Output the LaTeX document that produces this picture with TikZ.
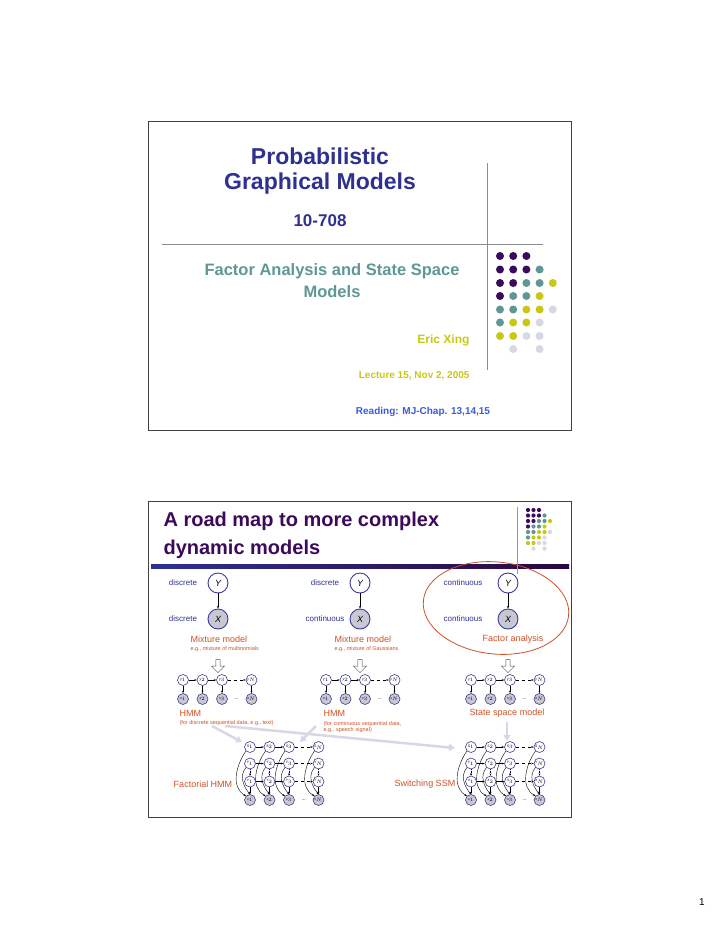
\documentclass[tikz,border=0pt]{standalone}
\usepackage{fontspec}
\setmainfont{Liberation Sans}
\usetikzlibrary{arrows.meta,shapes.arrows}
\definecolor{tblue}{RGB}{46,49,146}
\definecolor{tteal}{RGB}{95,150,150}
\definecolor{tolive}{RGB}{200,200,20}
\definecolor{tlav}{RGB}{215,215,230}
\definecolor{tpurp}{RGB}{60,10,90}
\definecolor{torange}{RGB}{205,80,40}
\definecolor{tread}{RGB}{60,90,220}
\definecolor{ngray}{RGB}{200,200,212}
\definecolor{nblue}{RGB}{60,60,150}
\begin{document}
\begin{tikzpicture}[x=1pt,y=-1pt,
  big/.style={circle,draw=nblue,line width=0.9pt,minimum size=20pt,inner sep=0pt,font=\itshape\fontsize{9}{9}\selectfont},
  bigo/.style={big,fill=ngray},
  sm/.style={circle,draw=nblue,line width=0.6pt,minimum size=11pt,inner sep=0pt,font=\itshape\fontsize{3.5}{3.5}\selectfont},
  smo/.style={sm,fill=ngray},
  lab/.style={text=tblue,font=\fontsize{8}{8}\selectfont},
  ora/.style={text=torange,font=\fontsize{9}{9}\selectfont,anchor=west},
  orasm/.style={text=torange,font=\fontsize{5.5}{6.5}\selectfont,anchor=west,align=left},
  ar/.style={-{Stealth[length=2.5pt]},line width=0.4pt},
  lavar/.style={-{Triangle[length=6pt,width=7pt]},tlav,line width=2.5pt},
  hol/.style={single arrow,draw=black!70,line width=0.4pt,minimum height=13pt,minimum width=13pt,single arrow head extend=2.5pt,shape border rotate=270,inner sep=1pt}]
\useasboundingbox (0,0) rectangle (720,932);
% ---------- slide 1
\draw[black!75,line width=1pt] (148,121) rectangle (571,430);
\node[text=tblue,font=\bfseries\fontsize{23}{23}\selectfont] (t1) at (320,156) {Probabilistic};
\node[text=tblue,font=\bfseries\fontsize{23}{23}\selectfont] (t2) at (320,184) {Graphical Models};
\node[text=tblue,font=\bfseries\fontsize{17}{17}\selectfont] (t3) at (320,221) {10-708};
\draw[black!45,line width=0.6pt] (162,244) -- (543,244);
\draw[black!45,line width=0.8pt] (487,163) -- (487,370);
\node[text=tteal,font=\bfseries\fontsize{16.5}{16.5}\selectfont] (fa) at (332,271) {Factor Analysis and State Space};
\node[text=tteal,font=\bfseries\fontsize{16.5}{16.5}\selectfont] (fb) at (332,292) {Models};
\node[text=tolive,font=\bfseries\fontsize{12}{12}\selectfont,anchor=east] (ex) at (473,340) {Eric Xing};
\node[text=tolive,font=\bfseries\fontsize{10}{10}\selectfont,anchor=east] (lec) at (473,376) {Lecture 15, Nov 2, 2005};
\node[text=tread,font=\bfseries\fontsize{10}{10}\selectfont] (rd) at (423,412) {Reading: MJ-Chap. 13,14,15};
\foreach \y/\L in {256/{tpurp,tpurp,tpurp},269.5/{tpurp,tpurp,tpurp,tteal},283/{tpurp,tpurp,tteal,tteal,tolive},296/{tpurp,tteal,tteal,tolive},309.5/{tteal,tteal,tolive,tolive,tlav},322.5/{tteal,tolive,tolive,tlav},336/{tolive,tolive,tlav,tlav},349/{white,tlav,white,tlav}}{
  \foreach \cl [count=\i from 0] in \L {\fill[\cl] (500+\i*13.2,\y) circle (4);}}
% ---------- slide 2
\draw[black!75,line width=1pt] (148,501) rectangle (571,817);
\node[text=tpurp,font=\bfseries\fontsize{20}{20}\selectfont,anchor=west] (r1) at (160,521) {A road map to more complex};
\node[text=tpurp,font=\bfseries\fontsize{20}{20}\selectfont,anchor=west] (r2) at (160,549) {dynamic models};
\shade[left color=tblue,right color=tpurp!70!black] (151,564) rectangle (569,568);
\draw[black!40,line width=0.8pt] (517,507) -- (517,574);
\foreach \y/\L in {510/{tpurp,tpurp,tpurp},515.5/{tpurp,tpurp,tpurp,tteal},521/{tpurp,tpurp,tteal,tteal,tolive},526.5/{tpurp,tteal,tteal,tolive},532/{tteal,tteal,tolive,tolive,tlav},537.5/{tteal,tolive,tolive,tlav},543/{tolive,tolive,tlav,tlav},548.5/{white,tlav,white,tlav}}{
  \foreach \cl [count=\i from 0] in \L {\fill[\cl] (528+\i*5.5,\y) circle (2.1);}}
% top level models
\foreach \n/\x/\a/\b/\lx in {1/218/discrete/discrete/183,2/360/discrete/continuous/325,3/508/continuous/continuous/463}{
  \node[big] (Y\n) at (\x,583) {Y};
  \node[bigo] (X\n) at (\x,619) {X};
  \draw[ar] (Y\n) -- (X\n);
  \node[lab] (la\n) at (\lx,583) {\a};
  \node[lab] (lb\n) at (\lx,619) {\b};
  \node[hol] (h\n) at (\x,665) {};
}
\node[ora] (m1) at (187,639) {Mixture model};
\node[orasm] (m1s) at (187,649) {e.g., mixture of multinomials};
\node[ora] (m2) at (331,639) {Mixture model};
\node[orasm] (m2s) at (331,649) {e.g., mixture of Gaussians};
\node[ora,anchor=center] (m3) at (513,639) {Factor analysis};
\draw[torange,line width=0.8pt,rotate around={-6:(496,608)}] (496,608) ellipse (73 and 46);
% HMM chains
\foreach \n/\x in {1/183,2/326,3/471}{
  \foreach \i/\dx/\s in {1/0/1,2/19.5/2,3/39/3,4/68.5/N}{
    \node[sm] (c\n y\i) at (\x+\dx,680) {y$_\s$};
    \node[smo] (c\n x\i) at (\x+\dx,699) {x$_\s$};
    \draw[ar] (c\n y\i) -- (c\n x\i);
  }
  \draw[ar] (c\n y1) -- (c\n y2);
  \draw[ar] (c\n y2) -- (c\n y3);
  \draw[ar,dashed] (c\n y3) -- (c\n y4);
  \path (c\n x3) -- node[font=\tiny]{...} (c\n x4);
}
\node[ora] (hm1) at (176,713) {HMM};
\node[orasm] (hm1s) at (176,723) {(for discrete sequential data, e.g., text)};
\node[ora] (hm2) at (320,713) {HMM};
\node[orasm,text width=110pt] (hm2s) at (320,727) {(for continuous sequential data,\\ e.g., speech signal)};
\node[ora,anchor=center] (hm3) at (507,713) {State space model};
% lavender arrows
\coordinate (a1s) at (212,726); \coordinate (a1e) at (242,742);
\coordinate (a2s) at (316,726); \coordinate (a2e) at (300,742);
\coordinate (a3s) at (225,726); \coordinate (a3e) at (455,748);
\coordinate (a4s) at (507,722); \coordinate (a4e) at (507,741);
\draw[lavar] (a1s) -- (a1e);
\draw[lavar] (a2s) -- (a2e);
\draw[lavar] (a3s) -- (a3e);
\draw[lavar] (a4s) -- (a4e);
% factorial / switching
\foreach \n/\x/\rb/\rc in {f/250/Y/Y,s/471/Y/X}{
  \foreach \i/\dx/\s in {1/0/1,2/19.5/2,3/39/3,4/68.5/N}{
    \node[sm] (\n s\i) at (\x+\dx,747) {S$_\s$};
    \node[sm] (\n a\i) at (\x+\dx,763.5) {\rb$_{\s}$};
    \node[sm] (\n b\i) at (\x+\dx,781.5) {\rc$_{\s}$};
    \node[smo] (\n x\i) at (\x+\dx,800) {x$_\s$};
    \draw[ar,densely dotted] (\n a\i) -- (\n b\i);
    \draw[ar] (\n b\i) -- (\n x\i);
    \draw[ar] (\n s\i.south west) to[out=235,in=150] (\n x\i.north west);
    \draw[ar] (\n a\i.south west) to[out=230,in=130] (\n x\i.north);
  }
  \foreach \r in {s,a,b}{
    \draw[ar] (\n\r1) -- (\n\r2);
    \draw[ar] (\n\r2) -- (\n\r3);
    \draw[ar,dashed] (\n\r3) -- (\n\r4);
  }
  \path (\n x3) -- node[font=\tiny]{...} (\n x4);
}
\node[ora,anchor=center] (fh) at (203,784) {Factorial HMM};
\node[ora,anchor=center] (ss) at (425,784) {Switching SSM};
\node[font=\fontsize{10}{10}\selectfont] (pg) at (702,902) {1};
\end{tikzpicture}
\end{document}
